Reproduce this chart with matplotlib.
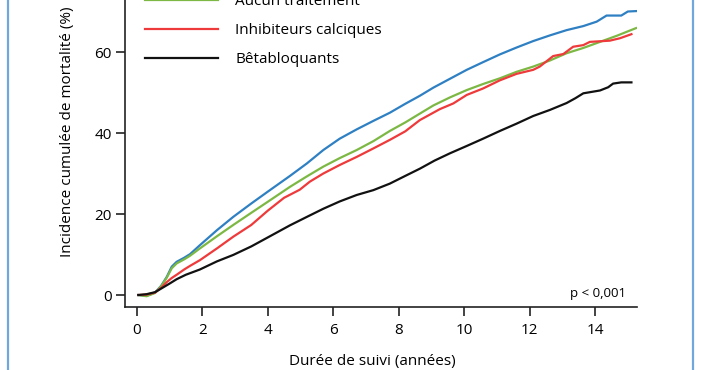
#!/usr/bin/env python3
import matplotlib
matplotlib.use("Agg")
import matplotlib.pyplot as plt
from matplotlib.lines import Line2D

plt.rcParams["font.family"] = ["Open Sans", "DejaVu Sans"]

# cumulative mortality (%) by follow-up time (years)
labels = ["Diurétiques", "Aucun traitement", "Inhibiteurs calciques", "Bêtabloquants"]
colors = ["#2f80c3", "#7cb843", "#ee3a3a", "#111111"]

t_blue = [0.05, 0.3, 0.56, 0.75, 0.92, 1.07, 1.22, 1.45, 1.63, 1.93, 2.45, 2.95, 3.5, 4.0,
          4.68, 5.2, 5.7, 6.2, 6.72, 7.23, 7.73, 8.2, 8.65, 9.06, 9.57, 10.08, 10.58, 11.09,
          11.6, 12.11, 12.62, 13.13, 13.64, 14.05, 14.35, 14.8, 15.0, 15.25]
v_blue = [0, -0.2, 0.6, 2.3, 4.5, 7.0, 8.2, 9.2, 10.1, 12.3, 16.0, 19.3, 22.6, 25.5,
          29.4, 32.5, 35.8, 38.6, 40.9, 43.0, 45.0, 47.2, 49.2, 51.2, 53.4, 55.6, 57.5, 59.4,
          61.1, 62.7, 64.1, 65.4, 66.4, 67.5, 69.0, 69.0, 70.0, 70.1]

t_green = [0.05, 0.3, 0.56, 0.75, 0.92, 1.07, 1.22, 1.45, 1.63, 1.93, 2.45, 2.95, 3.5, 4.0,
           4.68, 5.2, 5.7, 6.2, 6.72, 7.23, 7.73, 8.2, 8.65, 9.06, 9.57, 10.08, 10.58, 11.09,
           11.6, 12.11, 12.62, 13.13, 13.64, 14.15, 14.66, 15.25]
v_green = [0, -0.3, 0.5, 2.2, 4.3, 6.6, 7.8, 8.8, 9.7, 11.5, 14.5, 17.3, 20.3, 23.0,
           26.7, 29.3, 31.7, 33.8, 35.8, 38.0, 40.5, 42.6, 44.8, 46.8, 48.8, 50.6, 52.1, 53.5,
           55.1, 56.4, 57.9, 59.7, 61.0, 62.5, 64.0, 65.9]

t_red = [0.05, 0.3, 0.56, 0.75, 0.92, 1.07, 1.22, 1.45, 1.63, 1.93, 2.45, 2.95, 3.5, 4.0,
         4.5, 4.98, 5.29, 5.7, 6.2, 6.72, 7.23, 7.73, 8.2, 8.65, 9.26, 9.67, 10.08, 10.58,
         11.09, 11.6, 12.11, 12.31, 12.72, 13.03, 13.33, 13.64, 13.84, 14.45, 14.76, 15.11]
v_red = [0, 0.1, 0.6, 1.8, 3.2, 4.2, 5.0, 6.3, 7.2, 8.6, 11.5, 14.4, 17.3, 20.8,
         24.0, 26.0, 28.0, 30.0, 32.1, 34.1, 36.2, 38.3, 40.4, 43.2, 45.9, 47.3, 49.4, 51.0,
         53.0, 54.6, 55.6, 56.4, 59.0, 59.5, 61.3, 61.7, 62.5, 62.8, 63.4, 64.4]

t_black = [0.05, 0.3, 0.56, 0.75, 1.0, 1.22, 1.5, 1.93, 2.45, 2.95, 3.5, 4.0, 4.68, 5.2,
           5.7, 6.2, 6.72, 7.23, 7.73, 8.2, 8.65, 9.1, 9.57, 10.08, 10.58, 11.09, 11.6,
           12.11, 12.62, 13.13, 13.4, 13.64, 14.15, 14.4, 14.55, 14.8, 15.11]
v_black = [0, 0.2, 0.7, 1.6, 2.8, 3.9, 5.0, 6.3, 8.3, 9.9, 12.0, 14.2, 17.2, 19.3,
           21.3, 23.1, 24.7, 25.9, 27.5, 29.4, 31.2, 33.2, 35.0, 36.8, 38.6, 40.5, 42.3,
           44.2, 45.7, 47.4, 48.6, 49.8, 50.5, 51.3, 52.2, 52.5, 52.5]

xticks = [0, 2, 4, 6, 8, 10, 12, 14]
yticks = [0, 20, 40, 60]

W, H = 702, 370
fig = plt.figure(figsize=(W / 100, H / 100), dpi=100)
ax = fig.add_axes([125 / W, 63 / H, 512 / W, 1 - 63 / H])

series = [(t_blue, v_blue), (t_green, v_green), (t_red, v_red), (t_black, v_black)]
handles = []
for (t, v), c, lab in zip(series, colors, labels):
    h, = ax.plot(t, v, color=c, lw=1.6, solid_joinstyle="round", label=lab)
    handles.append(h)

ax.set_xlim(-0.357, 15.28)
ax.set_ylim(-2.96, 72.84)
ax.set_xticks(xticks)
ax.set_yticks(yticks)
ax.tick_params(direction="out", length=6.5, width=1.2, colors="#222222",
               labelsize=11, labelcolor="black")
ax.tick_params(axis="x", pad=5)
ax.tick_params(axis="y", pad=3)
for s in ["top", "right"]:
    ax.spines[s].set_visible(False)
for s in ["left", "bottom"]:
    ax.spines[s].set_linewidth(1.2)
    ax.spines[s].set_color("#222222")

fig.legend(handles=handles, loc="lower left", bbox_to_anchor=(145 / W, 1 - 67 / H),
           frameon=False, fontsize=11, handlelength=4.8, handletextpad=1.1,
           labelspacing=0.92, borderpad=0, borderaxespad=0)

fig.text(68 / W, 1 - 132 / H, "Incidence cumulée de mortalité (%)", rotation=90,
         ha="center", va="center", fontsize=11)
fig.text(372 / W, 1 - 362 / H, "Durée de suivi (années)", ha="center", va="center",
         fontsize=11)
fig.text(626 / W, 1 - 294 / H, "p < 0,001", ha="right", va="center", fontsize=9.5)

# light blue frame of the original box
for x in [8, 693]:
    fig.add_artist(Line2D([x / W, x / W], [0, 1], color="#6fa8dc", lw=1.6))

fig.savefig("out.png", dpi=100)
